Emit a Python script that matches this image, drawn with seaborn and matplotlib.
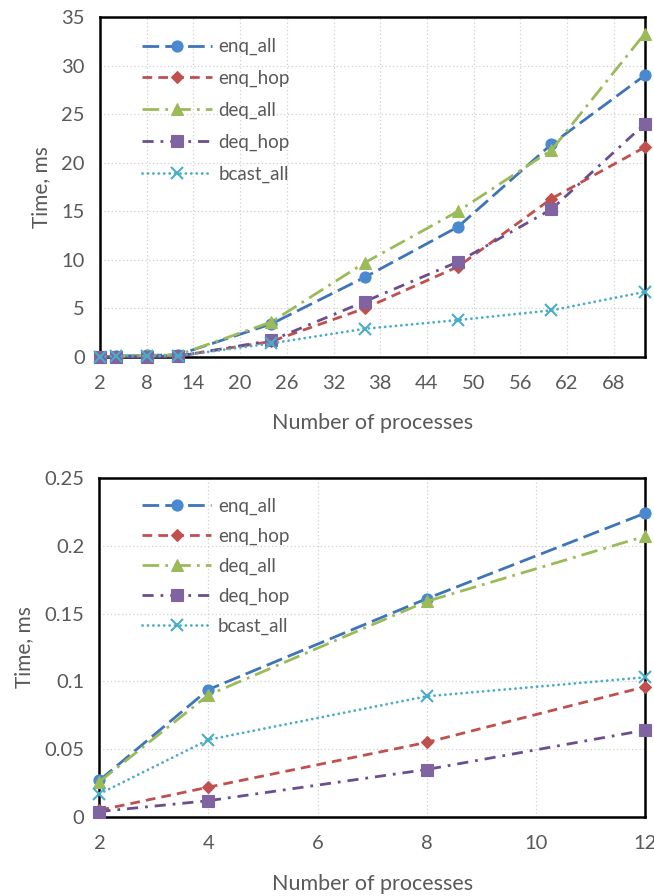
import numpy as np
import pandas as pd
import matplotlib
matplotlib.use("Agg")
import matplotlib.pyplot as plt
from matplotlib.ticker import FuncFormatter, MultipleLocator
import seaborn as sns

series = ["enq_all", "enq_hop", "deq_all", "deq_hop", "bcast_all"]

# Top chart
x_top = [2, 4, 8, 12, 24, 36, 48, 60, 72]
top_enq_all = [0.027, 0.094, 0.161, 0.224, 3.4, 8.2, 13.4, 21.9, 29.0]
top_enq_hop = [0.005, 0.022, 0.055, 0.096, 1.6, 5.0, 9.3, 16.3, 21.6]
top_deq_all = [0.026, 0.090, 0.159, 0.207, 3.6, 9.7, 15.0, 21.3, 33.3]
top_deq_hop = [0.004, 0.012, 0.035, 0.064, 1.7, 5.7, 9.8, 15.2, 24.0]
top_bcast_all = [0.017, 0.057, 0.089, 0.103, 1.4, 2.9, 3.8, 4.8, 6.7]

# Bottom chart
x_bot = [2, 4, 8, 12]
bot_enq_all = [0.027, 0.094, 0.161, 0.224]
bot_enq_hop = [0.005, 0.022, 0.055, 0.096]
bot_deq_all = [0.026, 0.090, 0.159, 0.207]
bot_deq_hop = [0.004, 0.012, 0.035, 0.064]
bot_bcast_all = [0.017, 0.057, 0.089, 0.103]

top_ticks = [2, 8, 14, 20, 26, 32, 38, 44, 50, 56, 62, 68]
bot_ticks = [2, 4, 6, 8, 10, 12]

xlabel = "Number of processes"
ylabel = "Time, ms"

colors = {"enq_all": "#3E74B8", "enq_hop": "#C0504D", "deq_all": "#9BBB59",
          "deq_hop": "#6A4E8E", "bcast_all": "#4BACC6"}
mfc = {"enq_all": "#4A89CF", "enq_hop": "#C0504D", "deq_all": "#9BBB59",
       "deq_hop": "#8064A2", "bcast_all": "#4BACC6"}
markers = {"enq_all": "o", "enq_hop": "D", "deq_all": "^", "deq_hop": "s", "bcast_all": "x"}
msize = {"enq_all": 8, "enq_hop": 6, "deq_all": 8, "deq_hop": 8, "bcast_all": 8}
dashes = {"enq_all": (6, 2.2), "enq_hop": (3.5, 2.2), "deq_all": (6, 2.2, 1, 2.2),
          "deq_hop": (4, 2.5, 1, 2.5), "bcast_all": (0.05, 1.9)}

sns.set_theme(style="white")
plt.rcParams["font.family"] = ["Lato", "DejaVu Sans"]
gray = "#595959"

fig = plt.figure(figsize=(6.54, 8.96), dpi=100)
ax1 = fig.add_axes([0.153, 0.6016, 0.833, 0.3794])
ax2 = fig.add_axes([0.152, 0.0882, 0.834, 0.3783])


def build(xs, vals):
    rows = []
    for s, v in zip(series, vals):
        for x, y in zip(xs, v):
            rows.append({"x": x, "y": y, "series": s})
    return pd.DataFrame(rows)


def draw(ax, df, xticks, xlim, ylim, ystep, legend_y, spacing, xlabelpad):
    for s in series:
        d = df[df["series"] == s]
        sns.lineplot(data=d, x="x", y="y", ax=ax, color=colors[s], lw=2.0,
                     marker=markers[s], markersize=msize[s],
                     markerfacecolor=mfc[s], markeredgecolor=mfc[s],
                     markeredgewidth=1.5 if s == "bcast_all" else 0.8,
                     dashes=dashes[s], label=s, clip_on=False, zorder=3,
                     dash_capstyle="round" if s == "bcast_all" else "butt")
    ax.set_xlim(*xlim)
    ax.set_ylim(*ylim)
    ax.set_xticks(xticks)
    ax.yaxis.set_major_locator(MultipleLocator(ystep))
    ax.yaxis.set_major_formatter(FuncFormatter(lambda v, p: f"{v:g}"))
    ax.grid(True, color="#D0D0D0", linestyle=(0, (1, 2)), linewidth=0.9)
    for sp in ax.spines.values():
        sp.set_visible(True)
        sp.set_color("black")
        sp.set_linewidth(1.8)
    ax.tick_params(direction="in", length=6, width=1.8, colors="black",
                   labelcolor=gray, labelsize=14.5)
    ax.tick_params(axis="x", pad=13)
    ax.tick_params(axis="y", pad=11)
    ax.set_xlabel(xlabel, fontsize=15.5, color=gray, labelpad=xlabelpad)
    ax.set_ylabel(ylabel, fontsize=15, color=gray, labelpad=7)
    h, l = ax.get_legend_handles_labels()
    ax.legend(h, l, loc="upper left", bbox_to_anchor=(0.064, legend_y), frameon=False,
              fontsize=13.5, labelcolor=gray, handlelength=3.7, handletextpad=0.35,
              labelspacing=spacing, borderaxespad=0)


draw(ax1, build(x_top, [top_enq_all, top_enq_hop, top_deq_all, top_deq_hop, top_bcast_all]),
     top_ticks, (2, 72), (0, 35), 5, 0.96, 0.78, 15)
draw(ax2, build(x_bot, [bot_enq_all, bot_enq_hop, bot_deq_all, bot_deq_hop, bot_bcast_all]),
     bot_ticks, (2, 12), (0, 0.25), 0.05, 0.965, 0.68, 16)

fig.savefig("out.png", dpi=100)
